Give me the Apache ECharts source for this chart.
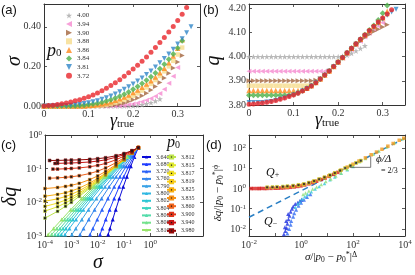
<!DOCTYPE html>
<html><head><meta charset="utf-8">
<script src="https://cdn.jsdelivr.net/npm/echarts@6/dist/echarts.min.js"></script>
<style>html,body{margin:0;padding:0;background:#fff}#c{width:415px;height:275px}</style>
</head><body><div id="c"></div>
<script>
// ---------------- DATA ----------------
// panels (a),(b): shear strain grid
const gamma = [0,0.01,0.02,0.03,0.04,0.05,0.06,0.07,0.08,0.09,0.10,0.11,0.12,0.13,0.14,0.15,0.16,0.17,0.18,0.19,0.20,0.21,0.22,0.23,0.24,0.25,0.26,0.27,0.28,0.29,0.30,0.31,0.32,0.33];
const p0A = ['4.00','3.94','3.90','3.88','3.86','3.84','3.81','3.72'];
// (a) sigma
const sig400 = [0,0,0,0,0,0,0,0,0,0,0,0,0,0,0,0,0,0,0,0,0.001,0.003,0.006,0.011,0.017,0.025,0.035];
const sig394 = [0,0,0,0,0,0,0,0,0,0,0,0,0,0,0,0,0,0.001,0.003,0.006,0.010,0.015,0.021,0.029,0.038,0.049,0.063,0.085,0.115,0.150,0.195];
const sig390 = [0,0,0,0,0,0,0,0,0,0,0,0,0,0,0.001,0.003,0.006,0.010,0.015,0.023,0.032,0.041,0.052,0.065,0.081,0.099,0.119,0.141,0.165,0.192,0.222,0.255];
const sig388 = [0,0,0,0,0,0,0,0,0,0,0,0,0.001,0.003,0.006,0.010,0.016,0.023,0.031,0.041,0.052,0.064,0.078,0.094,0.112,0.131,0.152,0.175,0.200,0.228,0.260,0.295];
const sig386 = [0,0,0,0,0,0,0,0,0,0,0.002,0.004,0.007,0.011,0.016,0.022,0.029,0.037,0.046,0.056,0.068,0.081,0.095,0.111,0.128,0.147,0.168,0.191,0.218,0.253,0.292,0.335];
const sig384 = [0,0,0,0,0,0,0,0,0.002,0.004,0.007,0.010,0.014,0.019,0.025,0.032,0.040,0.049,0.059,0.071,0.084,0.098,0.113,0.130,0.148,0.167,0.188,0.211,0.236,0.263,0.293,0.330];
const sig381 = [0,0,0.001,0.001,0.002,0.003,0.004,0.006,0.009,0.012,0.016,0.021,0.027,0.034,0.042,0.051,0.061,0.072,0.084,0.097,0.111,0.126,0.142,0.159,0.177,0.197,0.218,0.240,0.263,0.287,0.313,0.340,0.370,0.400];
const sig372 = [0,0.002,0.004,0.007,0.011,0.015,0.020,0.026,0.032,0.039,0.047,0.056,0.066,0.077,0.089,0.103,0.118,0.133,0.150,0.168,0.187,0.206,0.226,0.248,0.271,0.295,0.320,0.346,0.373,0.401,0.432,0.463,0.497];
// (b) q
const q400 = [4,4,4,4,4,4,4,4,4,4,4,4,4,4,4,4,4,4,4,4,4,4.002,4.006,4.014,4.024,4.034,4.045];
const q394 = [3.94,3.94,3.94,3.94,3.94,3.94,3.94,3.94,3.94,3.94,3.94,3.94,3.94,3.94,3.94,3.94,3.94,3.94,3.943,3.957,3.975,3.993,4.011,4.029,4.047,4.064,4.081,4.097,4.112,4.127,4.140];
const q390 = [3.9,3.9,3.9,3.9,3.9,3.9,3.9,3.9,3.9,3.9,3.9,3.9,3.9,3.9,3.9,3.902,3.910,3.924,3.940,3.957,3.975,3.993,4.011,4.029,4.047,4.064,4.079,4.092,4.104,4.114,4.123,4.132];
const q388 = [3.88,3.88,3.88,3.88,3.88,3.88,3.88,3.88,3.88,3.88,3.88,3.88,3.88,3.88,3.883,3.893,3.908,3.924,3.941,3.959,3.978,3.997,4.016,4.035,4.054,4.072,4.090,4.107,4.123,4.139,4.156,4.175];
const q386 = [3.86,3.86,3.86,3.86,3.86,3.86,3.86,3.86,3.86,3.86,3.86,3.86,3.862,3.869,3.880,3.893,3.908,3.924,3.941,3.959,3.978,3.997,4.016,4.035,4.054,4.072,4.090,4.108,4.125,4.142,4.162,4.188];
const q384 = [3.84,3.84,3.84,3.84,3.84,3.84,3.84,3.84,3.84,3.84,3.843,3.850,3.859,3.869,3.880,3.893,3.908,3.924,3.941,3.959,3.978,3.997,4.016,4.035,4.054,4.072,4.091,4.110,4.129,4.152,4.180,4.212];
const q381 = [3.81,3.81,3.81,3.81,3.812,3.815,3.819,3.824,3.829,3.835,3.841,3.849,3.858,3.868,3.879,3.892,3.907,3.923,3.940,3.958,3.976,3.995,4.014,4.033,4.051,4.069,4.087,4.104,4.121,4.138,4.155,4.171,4.185,4.196];
const q372 = [3.803,3.804,3.806,3.808,3.811,3.815,3.819,3.824,3.829,3.835,3.841,3.849,3.858,3.868,3.879,3.892,3.908,3.924,3.941,3.959,3.978,3.997,4.016,4.035,4.054,4.072,4.090,4.108,4.126,4.143,4.160,4.177,4.194];

// (c) delta q vs sigma
const p0Tri = ['3.640','3.680','3.720','3.760','3.790','3.800','3.802','3.804','3.806','3.808','3.810'];
const p0Sq = ['3.812','3.815','3.817','3.819','3.825','3.835','3.860','3.900','3.940','3.980'];
const dqTri = [0.0011,0.00168,0.00311,0.00607,0.01306,0.0289,0.0579,0.1186,0.222,0.42];
const sT3640 = [0.0251,0.0294,0.0373,0.0485,0.0665,0.0938,0.1285,0.181,0.248,0.35];
const sT3680 = [0.0123,0.01503,0.0203,0.0284,0.0425,0.0656,0.098,0.1514,0.2265,0.35];
const sT3720 = [0.00513,0.00661,0.00966,0.01472,0.0245,0.0424,0.0703,0.1216,0.2023,0.35];
const sT3760 = [0.00214,0.0029,0.00459,0.00764,0.0141,0.02735,0.0505,0.0977,0.1803,0.35];
const sT3790 = [0.00105,0.00148,0.00251,0.00448,0.009,0.01914,0.0385,0.0818,0.1644,0.35];
const sT3800 = [0.000575,0.000845,0.00151,0.00286,0.00617,0.01419,0.0306,0.0705,0.152,0.35];
const sT3802 = [0.000417,0.000624,0.001146,0.002244,0.005035,0.01208,0.0271,0.065,0.1459,0.35];
const sT3804 = [0.000316,0.000482,0.000906,0.001824,0.004227,0.01052,0.02438,0.0607,0.1406,0.35];
const sT3806 = [0.00024,0.000372,0.000716,0.001483,0.003556,0.00916,0.02198,0.0566,0.1358,0.35];
const sT3808 = [0.000178,0.000281,0.000555,0.001183,0.002944,0.00789,0.01959,0.0525,0.1306,0.35];
const sT3810 = [0.000132,0.000211,0.000431,0.000946,0.002438,0.00679,0.0175,0.0488,0.1256,0.35];
const sigSq = [0.0001,0.0003,0.0006,0.001,0.002,0.005,0.01,0.02,0.05,0.1,0.2,0.35];
const dq3812 = [0.0034,0.0054,0.0076,0.010,0.015,0.0262,0.0406,0.0636,0.116,0.183,0.289,0.42];
const dq3815 = [0.0055,0.0074,0.0096,0.012,0.017,0.0282,0.0425,0.0654,0.1173,0.184,0.290,0.42];
const dq3817 = [0.0076,0.0095,0.0117,0.0141,0.019,0.0302,0.0444,0.0671,0.119,0.185,0.291,0.42];
const dq3819 = [0.0108,0.0127,0.0149,0.0173,0.0221,0.0332,0.0474,0.0699,0.121,0.187,0.292,0.42];
const dq3825 = [0.0152,0.0172,0.0193,0.0217,0.0265,0.0374,0.0514,0.0737,0.1244,0.190,0.293,0.42];
const dq3835 = [0.0257,0.0276,0.0297,0.032,0.0366,0.0473,0.061,0.0827,0.132,0.196,0.297,0.42];
const dq3860 = [null,0.0533,0.0553,0.0574,0.0618,0.0718,0.0845,0.1048,0.151,0.210,0.305,0.42];
const dq3900 = [null,0.097,0.0996,0.1015,0.1054,0.114,0.125,0.143,0.184,0.236,0.319,0.42];
const dq3940 = [null,0.144,0.146,0.1476,0.151,0.158,0.168,0.183,0.218,0.262,0.333,0.42];
const dq3980 = [null,0.176,0.1785,0.180,0.183,0.189,0.198,0.211,0.242,0.281,0.343,0.42];
const dqSqFirst = {'3.860':[0.00015,0.052],'3.900':[0.0002,0.097],'3.940':[0.00024,0.143],'3.980':[0.00015,0.175]};

// (d) scaling collapse
const dQpRed = [[0.012,1.0],[0.015,1.0],[0.02,1.0],[0.025,1.0],[0.03,1.01],[0.04,1.0],[0.05,1.01],[0.07,1.02],[0.1,1.03],[0.13,1.04],[0.17,1.06],[0.22,1.08],[0.3,1.11],[0.4,1.15],[0.55,1.2],[0.75,1.27],[1.0,1.35],[1.4,1.5],[2.0,1.7],[2.8,1.95],[4,2.3],[6,2.8],[8.5,3.3],[12,4.0],[18,5.0],[26,6.3]];
const dQpOrange = [[0.3,1.2],[0.5,1.28],[0.8,1.4],[1.2,1.55],[2,1.85],[3,2.2],[5,2.8],[8,3.5],[12,4.3],[20,5.8],[35,8.2],[60,11.5],[100,16],[170,23],[300,33],[500,47],[800,64],[1300,88],[2200,125],[3500,170],[6000,245],[9000,310]];
const dQpYellow = [[0.05,1.15],[0.08,1.17],[0.12,1.2],[0.2,1.25],[0.3,1.3],[0.5,1.38],[0.8,1.5],[1.3,1.68],[2,1.95],[3.2,2.35],[5,2.9],[8,3.6],[13,4.6],[20,5.9],[32,7.8],[50,10.3],[80,13.6],[130,18.5],[200,24]];
const dQmBlue = [[0.22,0.0055],[0.25,0.008],[0.24,0.012],[0.28,0.011],[0.3,0.018],[0.27,0.025],[0.33,0.03],[0.36,0.045],[0.32,0.055],[0.4,0.07],[0.45,0.1],[0.5,0.13],[0.6,0.17],[0.75,0.2],[0.9,0.24],[1.05,0.28]];
const dQmBlue2 = [[0.3,0.006],[0.35,0.01],[0.4,0.016],[0.42,0.025],[0.5,0.04],[0.55,0.06],[0.65,0.09],[0.8,0.14],[1.0,0.2],[1.3,0.28],[1.7,0.38],[2.3,0.52]];
const dQmCyan = [[0.6,0.12],[0.75,0.17],[0.9,0.22],[1.1,0.3],[1.4,0.4],[1.8,0.52],[2.5,0.7],[3.5,0.95],[5,1.25],[8,1.8],[13,2.7],[20,3.7],[35,5.7],[60,8.6],[100,12.5]];
const dQmGreen = [[1.2,0.5],[1.5,0.6],[2,0.75],[2.8,0.95],[4,1.2],[6,1.6],[9,2.2],[14,3.0],[22,4.2],[35,5.9],[60,9],[100,13.5],[180,21],[300,31],[600,50],[1000,72],[2000,115],[4000,185],[8000,290]];
const dashLine = [[0.01,0.038],[10000,310]];
const slopeTri = [[77,11.2],[480,11.2],[480,38]];

// ---------------- STYLES ----------------
const FONT = 'Liberation Serif';
const STAR = 'path://M50,2 L62,38 L98,38 L69,60 L80,96 L50,74 L20,96 L31,60 L2,38 L38,38 Z';
const LTRI = 'path://M0,50 L100,0 L100,100 Z';
const RTRI = 'path://M100,50 L0,0 L0,100 Z';
const DTRI = 'path://M0,0 L100,0 L50,100 Z';
const sigA = [sig400,sig394,sig390,sig388,sig386,sig384,sig381,sig372];
const qA = [q400,q394,q390,q388,q386,q384,q381,q372];
const styA = [
  {sym:STAR,size:6,color:'#a8a8a8'},{sym:LTRI,size:5,color:'#f58ad0'},{sym:RTRI,size:5,color:'#a3643c'},
  {sym:'rect',size:4.5,color:'#f6dc8c'},{sym:'triangle',size:5.5,color:'#ff8a1c'},{sym:'diamond',size:6,color:'#4db04a'},
  {sym:DTRI,size:5,color:'#2f86c8'},{sym:'circle',size:5,color:'#e8262b'}];
const triS = [sT3640,sT3680,sT3720,sT3760,sT3790,sT3800,sT3802,sT3804,sT3806,sT3808,sT3810];
const triCol = ['#0a0ad8','#1f3cff','#2a62f8','#3386ee','#3aa2e6','#30b8e2','#2cc6d4','#3cd4c0','#55dcab','#74e28c','#98e46a'];
const sqD = [dq3812,dq3815,dq3817,dq3819,dq3825,dq3835,dq3860,dq3900,dq3940,dq3980];
const sqCol = ['#bde44a','#dfe830','#f0e024','#f8cc18','#f9b010','#f89014','#f0621a','#e0341a','#c81414','#950808'];

function pairs(xs, ys){ const out=[]; ys.forEach((y,i)=>{ if(y!=null) out.push([xs[i],y]); }); return out; }

const RICHPOW = {
  b:{fontFamily:FONT,fontSize:10,color:'#333',lineHeight:11,verticalAlign:'bottom'},
  s:{fontFamily:FONT,fontSize:7,color:'#333',lineHeight:8,padding:[0,0,5,0],verticalAlign:'top'}
};
function powFmt(keep){ return function(v){ const l=Math.log10(v), e=Math.round(l); if(Math.abs(l-e)>0.02||!keep(e)) return ''; return '{b|10}{s|'+e+'}'; }; }

function axis(gi,pos,type,min,max,interval,fmt,showLabel,extra){
  const a = {type:type,gridIndex:gi,position:pos,min:min,max:max,
    axisLine:{show:true,onZero:false,lineStyle:{color:'#333',width:1}},
    axisTick:{show:true,inside:true,length:3,lineStyle:{color:'#333',width:0.8}},
    splitLine:{show:false},
    axisLabel:{show:showLabel,formatter:fmt,fontFamily:FONT,fontSize:10,color:'#333',margin:3,rich:RICHPOW},
    nameMoveOverlap:false};
  if(type==='log') a.logBase=10;
  if(interval!=null) a.interval=interval;
  return Object.assign(a, extra||{});
}
const fmtG = v => (Math.abs(v*10-Math.round(v*10))>1e-6 ? '' : (v===0?'0':v.toFixed(1)));
const fmtS = v => (Math.abs(v*5-Math.round(v*5))>1e-6 ? '' : v.toFixed(2));
const fmtQ = v => (Math.abs(v*10-Math.round(v*10))>1e-6 ? '' : v.toFixed(2));

const nameStyleBig = {fontFamily:FONT,fontStyle:'italic',fontSize:20,color:'#111'};
const gammaName = {name:'{g|γ}{t|true}',nameLocation:'middle',nameGap:6,
  nameTextStyle:{rich:{g:{fontFamily:FONT,fontStyle:'italic',fontSize:18,color:'#111',lineHeight:18},t:{fontFamily:FONT,fontSize:11,color:'#111',lineHeight:11,padding:[6,0,0,0],verticalAlign:'bottom'}}}};
const scaleRich = {i:{fontFamily:FONT,fontStyle:'italic',fontSize:11,color:'#111',lineHeight:13},n:{fontFamily:FONT,fontSize:11,color:'#111',lineHeight:13},
  sb:{fontFamily:FONT,fontSize:7.5,color:'#111',lineHeight:8,padding:[5,0,0,0],verticalAlign:'bottom'},
  sp:{fontFamily:FONT,fontSize:8,color:'#111',lineHeight:8,padding:[0,0,5,0],verticalAlign:'top'}};

const xAxes = [
  axis(0,'bottom','value',0,0.35,0.1,fmtG,true,gammaName),
  axis(0,'top','value',0,0.35,0.1,fmtG,false),
  axis(1,'bottom','value',0,0.35,0.1,fmtG,true,gammaName),
  axis(1,'top','value',0,0.35,0.1,fmtG,false),
  axis(2,'bottom','log',0.0001,100,1,powFmt(e=>e<=0),true,{name:'σ',nameLocation:'middle',nameGap:17,nameTextStyle:Object.assign({padding:[0,52,0,0]},nameStyleBig)}),
  axis(2,'top','log',0.0001,100,1,null,false),
  axis(3,'bottom','log',0.01,10000,1,powFmt(e=>e%2===0),true,{name:'{i|σ}{n|/|}{i|p}{sb|0}{n| − }{i|p}{sb|0}{sp|*}{n||}{sp|Δ}',nameLocation:'middle',nameGap:15,
     nameTextStyle:{padding:[0,0,0,8],rich:scaleRich}}),
  axis(3,'top','log',0.01,10000,1,null,false)
];
const yAxes = [
  axis(0,'left','value',0,0.515,0.2,fmtS,true,{name:'σ',nameLocation:'middle',nameGap:19,nameTextStyle:Object.assign({padding:[0,12,0,0]},nameStyleBig)}),
  axis(0,'right','value',0,0.515,0.2,fmtS,false),
  axis(1,'left','value',3.8,4.218,0.1,fmtQ,true,{name:'q',nameLocation:'middle',nameGap:25,nameTextStyle:Object.assign({padding:[0,12,0,0]},nameStyleBig)}),
  axis(1,'right','value',3.8,4.218,0.1,fmtQ,false),
  axis(2,'left','log',0.001,1,1,powFmt(e=>true),true,{name:'δq',nameLocation:'middle',nameGap:24,nameTextStyle:Object.assign({padding:[0,22,0,0]},nameStyleBig)}),
  axis(2,'right','log',0.001,1,1,null,false),
  axis(3,'left','log',0.00447,447,null,powFmt(e=>true),true,{name:'{i|δq}{n|/|}{i|p}{sb|0}{n| − }{i|p}{sb|0}{sp|*}{n||}{sp|ϕ}',nameLocation:'middle',nameGap:24,
     nameTextStyle:{padding:[0,15,0,0],rich:scaleRich}}),
  axis(3,'right','log',0.00447,447,null,null,false)
];

const series = [];
p0A.forEach((n,i)=>{
  const st = styA[i];
  series.push({type:'scatter',name:n,xAxisIndex:0,yAxisIndex:0,data:pairs(gamma,sigA[i]),symbol:st.sym,symbolSize:st.size,itemStyle:{color:st.color}});
});
p0A.forEach((n,i)=>{
  const st = styA[i];
  series.push({type:'scatter',name:n,xAxisIndex:2,yAxisIndex:2,data:pairs(gamma,qA[i]),symbol:st.sym,symbolSize:st.size,itemStyle:{color:st.color}});
});
p0Tri.forEach((n,i)=>{
  series.push({type:'line',name:n,xAxisIndex:4,yAxisIndex:4,data:pairs(triS[i],dqTri),symbol:'triangle',symbolSize:4,
    itemStyle:{color:triCol[i]},lineStyle:{color:triCol[i],width:1}});
});
p0Sq.forEach((n,i)=>{
  let d = pairs(sigSq,sqD[i]);
  if(dqSqFirst[n]) d = [dqSqFirst[n]].concat(d);
  series.push({type:'line',name:n,xAxisIndex:4,yAxisIndex:4,data:d,symbol:'rect',symbolSize:2.8,
    itemStyle:{color:'#1a1a1a',borderColor:sqCol[i],borderWidth:0.5},lineStyle:{color:sqCol[i],width:1}});
});
series.push({type:'line',name:'slope 2/3',xAxisIndex:6,yAxisIndex:6,data:dashLine,symbol:'none',lineStyle:{color:'#2a7fc4',width:1.5,type:[6,4]},z:1});
const dSets = [
  ['Q- blue',dQmBlue,'triangle','#1c2ee0',4],['Q- blue2',dQmBlue2,'triangle','#2f6af2',4],['Q- cyan',dQmCyan,'triangle','#35c6dc',3.5],['Q- green',dQmGreen,'triangle','#8ee07a',3.5],
  ['Q+ red',dQpRed,'rect','#d81e1e',3.5],['Q+ orange',dQpOrange,'rect','#f39a1e',3.5],['Q+ yellow',dQpYellow,'rect','#222',3]
];
dSets.forEach(s=>{
  series.push({type:'scatter',name:s[0],xAxisIndex:6,yAxisIndex:6,data:s[1],symbol:s[2],symbolSize:s[4],
    itemStyle:s[0]==='Q+ yellow'?{color:'#222',borderColor:'#e8e030',borderWidth:0.8}:{color:s[3]}});
});
series.push({type:'line',name:'slope triangle',xAxisIndex:6,yAxisIndex:6,data:slopeTri,symbol:'none',lineStyle:{color:'#555',width:0.8}});

const grids = [
  {left:44,top:4,width:156,height:102},
  {left:249,top:4,width:156,height:101},
  {left:45,top:135,width:158,height:101},
  {left:249,top:135,width:156,height:101}
].map(g=>Object.assign(g,{containLabel:false,outerBoundsMode:'none'}));

const legText = fs => ({fontFamily:FONT,fontSize:fs,lineHeight:7,color:'#333'});
const option = {
  animation:false,
  backgroundColor:'#fff',
  textStyle:{fontFamily:FONT},
  grid:grids, xAxis:xAxes, yAxis:yAxes, series:series,
  legend:[
    {data:p0A,orient:'vertical',left:66,top:12,padding:0,itemWidth:6,itemHeight:6,itemGap:1.6,selectedMode:false,textStyle:legText(7)},
    {data:p0Tri,orient:'vertical',left:141,top:153.5,padding:0,itemWidth:9,itemHeight:4,itemGap:0.3,selectedMode:false,textStyle:legText(6)},
    {data:p0Sq,orient:'vertical',left:166,top:153.5,padding:0,itemWidth:9,itemHeight:4,itemGap:1.2,selectedMode:false,textStyle:legText(6)}
  ],
  graphic:[
    {type:'text',left:1,top:4,style:{text:'(a)',font:'13px "Liberation Sans"',fill:'#111'}},
    {type:'text',left:203,top:4,style:{text:'(b)',font:'13px "Liberation Sans"',fill:'#111'}},
    {type:'text',left:1,top:139,style:{text:'(c)',font:'13px "Liberation Sans"',fill:'#111'}},
    {type:'text',left:206,top:139,style:{text:'(d)',font:'13px "Liberation Sans"',fill:'#111'}},
    {type:'text',left:47,top:42,style:{text:'{p|p}{s|0}',rich:{p:{fontFamily:FONT,fontStyle:'italic',fontSize:18,fill:'#111',lineHeight:16},s:{fontFamily:FONT,fontSize:11,fill:'#111',lineHeight:11,padding:[5,0,0,0],verticalAlign:'bottom'}}}},
    {type:'text',left:167,top:135,style:{text:'{p|p}{s|0}',rich:{p:{fontFamily:FONT,fontStyle:'italic',fontSize:16,fill:'#111',lineHeight:14},s:{fontFamily:FONT,fontSize:10,fill:'#111',lineHeight:10,padding:[5,0,0,0],verticalAlign:'bottom'}}}},
    {type:'text',left:266,top:166,style:{text:'{q|Q}{s|+}',rich:{q:{fontFamily:FONT,fontStyle:'italic',fontSize:12,fill:'#111',lineHeight:12},s:{fontFamily:FONT,fontSize:8,fill:'#111',lineHeight:8,padding:[5,0,0,0],verticalAlign:'bottom'}}}},
    {type:'text',left:264,top:215,style:{text:'{q|Q}{s|−}',rich:{q:{fontFamily:FONT,fontStyle:'italic',fontSize:12,fill:'#111',lineHeight:12},s:{fontFamily:FONT,fontSize:8,fill:'#111',lineHeight:8,padding:[5,0,0,0],verticalAlign:'bottom'}}}},
    {type:'text',left:376,top:154,style:{text:'ϕ/Δ',font:'italic 11px "Liberation Serif"',fill:'#111'}},
    {type:'text',left:381,top:167,style:{text:'= 2/3',font:'8px "Liberation Serif"',fill:'#111'}}
  ]
};
const chart = echarts.init(document.getElementById('c'),null,{renderer:'canvas'});
chart.setOption(option);
</script></body></html>
